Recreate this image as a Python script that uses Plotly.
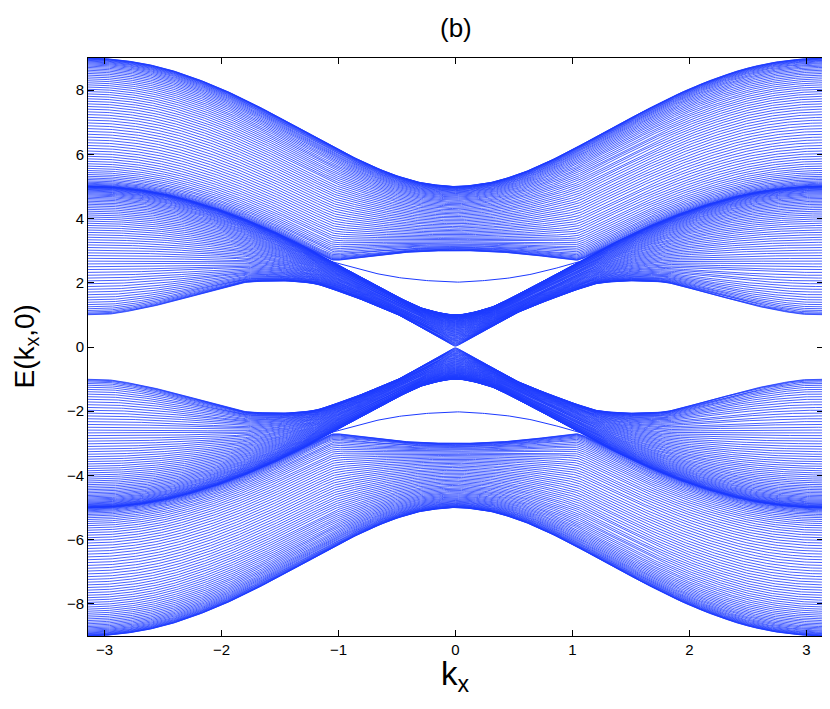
import numpy as np
import plotly.graph_objects as go

# ---- values (positive-energy half; spectrum is +/- symmetric) ----
k_nodes = [0.0, 0.25, 0.5, 0.75, 1.0, 1.25, 1.5, 1.75, 2.0, 2.25, 2.5, 2.75, 3.0, 3.1416]
# upper envelope of the upper band group
upper_top = [5.00, 5.09, 5.33, 5.70, 6.15, 6.65, 7.14, 7.61, 8.04, 8.40, 8.69, 8.88, 8.98, 9.00]
# crowded curve: top of the lower group (1 at k=0, 5 at k=pi)
middle_edge = [1.00, 1.17, 1.57, 2.05, 2.55, 3.04, 3.49, 3.89, 4.24, 4.53, 4.76, 4.91, 4.99, 5.00]
# crowded curve: 3 at k=0 falling to 1 at k=pi (bottom of upper group near k=0)
gap_edge = [3.00, 2.98, 2.92, 2.82, 2.68, 2.50, 2.26, 2.07, 1.83, 1.58, 1.34, 1.14, 1.01, 1.00]
# lower envelope of the lower group (Dirac point at k=0)
lower_edge = [0.00, 0.52, 1.02, 1.40, 1.74, 2.00, 2.06, 2.03, 1.83, 1.58, 1.34, 1.14, 1.01, 1.00]
# in-gap edge state
edge_k = [0.0, 0.25, 0.5, 0.75, 1.0, 1.06]
edge_state = [2.02, 2.07, 2.17, 2.35, 2.60, 2.66]
n_modes = 70          # number of transverse modes per band group
x_ticks = [-3, -2, -1, 0, 1, 2, 3]
y_ticks = [-8, -6, -4, -2, 0, 2, 4, 6, 8]

LINE_COLOR = "rgb(28,58,255)"


def pchip(x, y, xq, m0=0.0, m1=0.0):
    x = np.asarray(x, float); y = np.asarray(y, float)
    h = np.diff(x); d = np.diff(y) / h
    n = len(x)
    m = np.zeros(n)
    for i in range(1, n - 1):
        if d[i - 1] * d[i] > 0:
            w1 = 2 * h[i] + h[i - 1]; w2 = h[i] + 2 * h[i - 1]
            m[i] = (w1 + w2) / (w1 / d[i - 1] + w2 / d[i])
    m[0] = m0 if m0 is not None else d[0]
    m[-1] = m1 if m1 is not None else d[-1]
    xq = np.asarray(xq, float)
    idx = np.clip(np.searchsorted(x, xq) - 1, 0, n - 2)
    t = (xq - x[idx]) / h[idx]
    h00 = 2 * t**3 - 3 * t**2 + 1; h10 = t**3 - 2 * t**2 + t
    h01 = -2 * t**3 + 3 * t**2; h11 = t**3 - t**2
    return h00 * y[idx] + h10 * h[idx] * m[idx] + h01 * y[idx + 1] + h11 * h[idx] * m[idx + 1]


def soft_max(a, b, s=0.06):
    return (a + b) / 2.0 + np.sqrt(((a - b) / 2.0) ** 2 + s * s)


kx = np.linspace(-np.pi, np.pi, 481)
ka = np.abs(kx)

top = pchip(k_nodes, upper_top, ka)
mid = pchip(k_nodes, middle_edge, ka)
gap = pchip(k_nodes, gap_edge, ka)
low = pchip(k_nodes, lower_edge, ka, m0=2.08, m1=0.0)

fams = [(soft_max(mid, gap), top), (low, mid)]

fig = go.Figure()
for lo, hi in fams:
    Z = (hi + lo) / 2.0
    W = (hi - lo) / 2.0
    for sign in (1, -1):
        xs, ys = [], []
        for j in range(1, n_modes + 1):
            q = j * np.pi / (n_modes + 1)
            E = np.sqrt(np.clip(Z**2 + W**2 + 2 * Z * W * np.cos(q), 0, None))
            xs.extend(kx.tolist()); xs.append(None)
            ys.extend((sign * E).tolist()); ys.append(None)
        fig.add_trace(go.Scatter(x=xs, y=ys, mode="lines",
                                 line=dict(color=LINE_COLOR, width=0.8),
                                 hoverinfo="skip", showlegend=False))

ke = np.linspace(-edge_k[-1], edge_k[-1], 121)
Es = pchip(edge_k, edge_state, np.abs(ke), m0=0.0, m1=None)
for sign in (1, -1):
    fig.add_trace(go.Scatter(x=ke, y=sign * Es, mode="lines",
                             line=dict(color=LINE_COLOR, width=1.0),
                             hoverinfo="skip", showlegend=False))

axis_common = dict(showline=True, linecolor="black", linewidth=1, mirror="ticks",
                   ticks="inside", ticklen=6, tickcolor="black", showgrid=False,
                   zeroline=False, tickfont=dict(family="Liberation Sans, Arial", size=15, color="black"))

# the page body adds an 8px offset, so the figure is sized/margined to land where the reference plot sits
fig.update_layout(
    width=822, height=701,
    margin=dict(l=80, r=7, t=50, b=73),
    paper_bgcolor="white", plot_bgcolor="white",
    xaxis=dict(range=[-np.pi, np.pi], tickvals=x_ticks, **axis_common),
    yaxis=dict(range=[-9, 9], tickvals=y_ticks, **axis_common),
    annotations=[
        dict(text="(b)", x=0.5, y=1.052, xref="paper", yref="paper", showarrow=False,
             xanchor="center", yanchor="middle",
             font=dict(family="Liberation Sans, Arial", size=26, color="black")),
        dict(text="k<sub>x</sub>", x=0.5, y=-0.069, xref="paper", yref="paper", showarrow=False,
             xanchor="center", yanchor="middle",
             font=dict(family="Liberation Sans, Arial", size=33, color="black")),
        dict(text="E(k<sub>x</sub>,0)", x=-0.085, y=0.5, xref="paper", yref="paper", showarrow=False,
             xanchor="center", yanchor="middle", textangle=-90,
             font=dict(family="Liberation Sans, Arial", size=28, color="black")),
    ],
)

fig.write_html("out.html")
